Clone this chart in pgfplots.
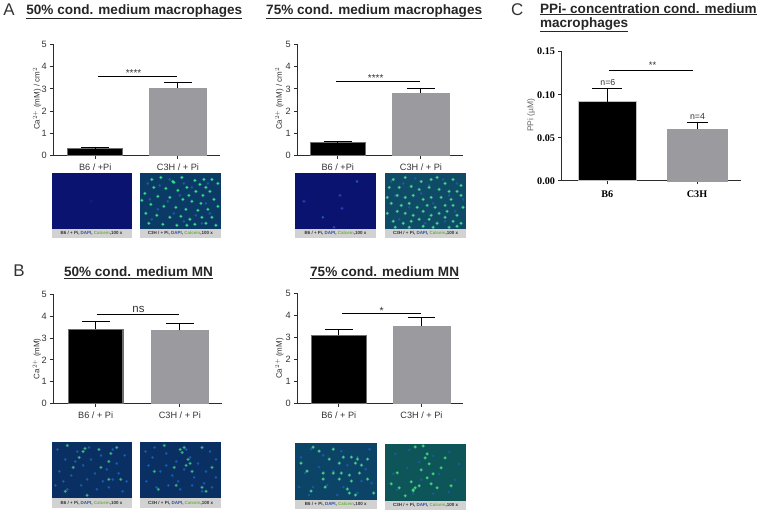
\documentclass[border=0pt]{standalone}
\usepackage{fontspec}
\setmainfont{Liberation Sans}
\newfontfamily\serifb{Liberation Serif}
\usepackage{pgfplots}
\pgfplotsset{compat=1.18}

\definecolor{axc}{HTML}{2B2B2B}
\definecolor{txt}{HTML}{333333}
\definecolor{greybar}{HTML}{9B9B9F}
\definecolor{edgeblk}{HTML}{6E6E6E}
\definecolor{capbox}{HTML}{D2D2D2}
\definecolor{calc}{HTML}{6FAF3F}
\definecolor{dapi}{HTML}{2F4F9F}
\definecolor{bgdark}{HTML}{0A1470}
\definecolor{bgA}{HTML}{0B3A66}
\definecolor{bgB}{HTML}{0F4A66}
\definecolor{bgC}{HTML}{0A2F62}
\definecolor{bgD}{HTML}{0C4468}
\definecolor{bgE}{HTML}{0D5558}
\definecolor{spA}{HTML}{35E08A}
\definecolor{spB}{HTML}{3FE08A}
\definecolor{spC}{HTML}{3FB58A}
\definecolor{spD}{HTML}{45D880}
\definecolor{spFaint}{HTML}{2C3CB8}
\definecolor{spBlue}{HTML}{1A58A8}

\tikzset{ttl/.style={font=\fontsize{13.6}{14}\selectfont\bfseries,text=black!85}}

\pgfplotsset{
  panel/.style={
    scale only axis, clip=false,
    axis lines=left,
    axis line style={-,line width=1pt,color=axc},
    tick style={line width=1pt,color=axc},
    tick align=outside, major tick length=3.5pt,
    xtick={0,1}, ytick={0,1,2,3,4,5},
    tick label style={font=\fontsize{9.2}{10}\selectfont,text=txt},
    /pgf/number format/assume math mode=true,
    xticklabel style={yshift=-1pt},
    ylabel style={font=\fontsize{8}{9}\selectfont,text=txt,anchor=center},
    ymin=0,
  },
  blk/.style={ybar,bar shift=0pt,fill=black,draw=edgeblk,line width=1.2pt,
    error bars/y dir=plus,error bars/y explicit,
    error bars/error bar style={black,line width=1pt},
    error bars/error mark options={black,line width=1pt,rotate=90,mark size=#1}},
  blk/.default=14pt,
  gry/.style={ybar,bar shift=0pt,fill=greybar,draw=greybar,line width=0.4pt,
    error bars/y dir=plus,error bars/y explicit,
    error bars/error bar style={black,line width=1pt},
    error bars/error mark options={black,line width=1pt,rotate=90,mark size=#1}},
  gry/.default=14pt,
  sig/.style={black,line width=0.9pt,forget plot},
  photo/.style={
    scale only axis, axis line style={draw=none}, ticks=none,
    xmin=0,xmax=81,ymin=0,ymax=#1,y dir=reverse,clip=true,
  },
  spot/.style 2 args={only marks,mark=*,mark size=#2,color=#1,
    mark options={solid,draw=none,fill=#1}},
}

% #1 x, #2 y (top), #3 w, #4 h, #5 background, #6 blue dots, #7 green dots, #8 colour of green dots, #9 caption name
\newcommand{\photo}[9]{%
  \begin{axis}[photo=#4,at={(#1pt,-#2pt-#4pt)},anchor=south west,width=#3pt,height=#4pt,
    axis background/.style={fill=#5}]
    \addplot[spot={spBlue}{1.1pt}] coordinates {#6};
    \addplot[spot={#8}{1.7pt},opacity=0.3] coordinates {#7};
    \addplot[spot={#8}{0.85pt}] coordinates {#7};
  \end{axis}
  \fill[capbox] (#1pt,-#2pt-#4pt) rectangle (#1pt+#3pt,-#2pt-#4pt-9.5pt);
  \node[font=\fontsize{4.5}{5}\selectfont\bfseries,text=black!80] at (#1pt+#3pt/2,-#2pt-#4pt-4.8pt)
    {#9 / + Pi, \textcolor{dapi}{DAPI}, \textcolor{calc}{Calcein},100 x};
}

\begin{document}
\begin{tikzpicture}
\path (0,0) rectangle (760pt,-514pt);

% panel A, 50%
\begin{axis}[panel,at={(53pt,-155.3pt)},anchor=south west,width=167pt,height=111.6pt,
  xmin=-0.5,xmax=1.51,ymax=5,xticklabels={B6 / +Pi,C3H / + Pi},
  ylabel={Ca$^{2+}$ (mM) / cm$^{2}$},ylabel style={at={(axis description cs:-0.10,0.51)}}]
  \addplot[blk,bar width=55pt] coordinates {(0,0.30) +- (0,0.05)};
  \addplot[gry,bar width=57pt] coordinates {(1,3.05) +- (0,0.24)};
  \addplot[sig] coordinates {(0.03,3.55) (0.994,3.55)};
\end{axis}

% panel A, 75%
\begin{axis}[panel,at={(297.7pt,-155.3pt)},anchor=south west,width=166.3pt,height=111.6pt,
  xmin=-0.483,xmax=1.51,ymax=5,xticklabels={B6 / +Pi,C3H / + Pi},
  ylabel={Ca$^{2+}$ (mM) / cm$^{2}$},ylabel style={at={(axis description cs:-0.11,0.51)}}]
  \addplot[blk,bar width=55pt] coordinates {(0,0.57) +- (0,0.08)};
  \addplot[gry,bar width=57pt] coordinates {(1,2.82) +- (0,0.20)};
  \addplot[sig] coordinates {(-0.024,3.33) (0.994,3.33)};
\end{axis}

% panel C
\begin{axis}[panel,at={(563pt,-180.7pt)},anchor=south west,width=180pt,height=129.7pt,
  xmin=-0.506,xmax=1.494,ymax=0.15,ytick={0,0.05,0.10,0.15},
  xticklabels={B6,C3H},
  tick label style={font=\fontsize{10.2}{11}\selectfont\serifb\bfseries,text=black},
  yticklabel style={/pgf/number format/.cd,fixed,fixed zerofill,precision=2},
  ylabel={PPi (µM)},
  ylabel style={at={(axis description cs:-0.172,0.507)},text=black!60,font=\fontsize{8.5}{9}\selectfont},
  xticklabel style={yshift=-2pt}]
  \addplot[blk=15pt,bar width=58pt,draw=black!25] coordinates {(0,0.092) +- (0,0.015)};
  \addplot[gry=10.5pt,bar width=60pt] coordinates {(1,0.060) +- (0,0.008)};
  \addplot[sig,line width=0.7pt] coordinates {(0.017,0.1288) (0.96,0.1288)};
\end{axis}

% panel B, 50%
\begin{axis}[panel,at={(53pt,-404pt)},anchor=south west,width=169pt,height=109.3pt,
  xmin=-0.497,xmax=1.503,ymax=5,xticklabels={B6 / + Pi,C3H / + Pi},
  ylabel={Ca$^{2+}$ (mM)},ylabel style={at={(axis description cs:-0.10,0.41)}}]
  \addplot[blk,bar width=55pt] coordinates {(0,3.40) +- (0,0.36)};
  \addplot[gry,bar width=57pt] coordinates {(1,3.35) +- (0,0.30)};
  \addplot[sig] coordinates {(0.012,4.07) (0.994,4.07)};
\end{axis}

% panel B, 75%
\begin{axis}[panel,at={(297.7pt,-404pt)},anchor=south west,width=166.3pt,height=110pt,
  xmin=-0.498,xmax=1.506,ymax=5,xticklabels={B6 / + Pi,C3H / + Pi},
  ylabel={Ca$^{2+}$ (mM)},ylabel style={at={(axis description cs:-0.11,0.41)}}]
  \addplot[blk,bar width=55pt] coordinates {(0,3.10) +- (0,0.28)};
  \addplot[gry,bar width=57pt] coordinates {(1,3.52) +- (0,0.38)};
  \addplot[sig] coordinates {(0.036,4.10) (1.0,4.10)};
\end{axis}

% micrographs
\photo{50.7}{173.3}{80.3}{55.4}{bgdark}{(40,28)}{(40,28)}{bgdark}{B6}
\photo{139.3}{173.3}{81.4}{55.4}{bgA}
 {(8,10)(20,12)(30,6)(44,10)(52,14)(68,10)(10,26)(28,28)(40,22)(66,30)(18,36)(34,40)(56,42)(70,40)(12,46)(44,48)(62,50)}
 {(12,6)(21,4)(42,4)(34,9)(55,7)(60,11)(66,14)(72,6)(78,10)(14,14)(26,15)(38,17)(47,14)(56,18)(63,22)(70,18)(5,20)(18,23)(30,24)(43,26)(52,28)(61,30)(74,26)(2,27)(11,31)(24,33)(36,34)(46,36)(58,37)(68,36)(78,33)(6,40)(17,42)(30,44)(41,43)(50,46)(62,44)(72,44)(9,50)(23,51)(37,52)(47,52)(55,51)(66,50)(76,52)(33,8)(49,22)(64,6)}
 {spA}{C3H}
\photo{295}{173.3}{81.3}{55.4}{bgdark}{(62,8)(28,44)}
 {(9,28)(47,35)(39,54)(45,22)}{spFaint}{B6}
\photo{385.7}{173.3}{81}{55.4}{bgB}
 {(6,8)(18,10)(30,5)(44,12)(58,6)(72,10)(10,22)(36,20)(64,22)(78,26)(24,34)(48,30)(70,38)(14,46)(40,50)(60,48)}
 {(8,6)(20,4)(36,8)(46,6)(52,4)(60,10)(68,6)(76,12)(4,14)(14,14)(26,13)(34,16)(44,14)(54,16)(64,18)(72,18)(2,24)(12,22)(20,24)(28,22)(38,26)(46,24)(56,24)(66,26)(76,22)(6,30)(16,32)(24,30)(32,34)(42,32)(50,34)(60,32)(68,32)(78,34)(2,40)(12,38)(20,40)(28,42)(38,38)(46,42)(54,40)(62,38)(72,42)(8,48)(18,50)(26,48)(34,46)(44,46)(52,50)(60,44)(68,48)(76,50)(10,54)(24,54)(38,53)(48,54)(64,54)(72,53)}
 {spB}{C3H}
\photo{50.7}{442.3}{80.3}{57}{bgC}
 {(6,8)(14,18)(26,10)(38,6)(50,14)(62,8)(74,14)(8,30)(20,34)(32,24)(44,32)(56,28)(68,32)(4,44)(16,48)(30,44)(46,48)(58,46)(72,50)(24,20)(40,18)(66,22)(12,40)(36,38)(52,40)(62,38)(76,40)}
 {(16,4)(32,10)(34,7)(48,8)(60,12)(66,6)(22,26)(58,20)(50,26)(70,38)(14,50)(36,54)(58,38)(28,16)}
 {spC}{B6}
\photo{140}{442.3}{80.7}{57}{bgC}
 {(5,10)(14,6)(26,12)(36,20)(46,8)(58,22)(70,10)(76,18)(8,24)(20,30)(32,34)(44,28)(54,36)(66,30)(76,36)(6,40)(16,46)(28,44)(40,48)(52,44)(62,50)(72,46)(12,16)(26,24)(50,16)(64,42)(38,40)}
 {(40,8)(44,6)(42,11)(48,18)(50,22)(46,24)(24,4)(62,6)(14,30)(34,26)(36,44)(18,48)(62,46)(66,50)(52,30)(72,26)}
 {spC}{C3H}
\photo{295}{444}{82}{56.7}{bgD}
 {(6,14)(16,6)(28,12)(46,8)(62,14)(74,6)(10,30)(24,24)(38,28)(52,22)(70,26)(4,44)(18,44)(32,42)(48,44)(62,50)(76,40)(14,52)(42,52)(66,38)}
 {(6,20)(18,4)(24,8)(34,16)(38,6)(48,14)(44,20)(56,14)(62,16)(60,20)(66,22)(72,16)(12,28)(28,30)(38,30)(46,30)(54,32)(64,30)(28,36)(30,44)(44,36)(56,38)(52,46)(54,50)(60,52)(72,36)(16,48)(78,50)}
 {spD}{B6}
\photo{385.7}{444.7}{81}{57}{bgE}
 {(10,10)(24,6)(34,18)(48,12)(64,8)(74,20)(8,30)(22,24)(36,36)(54,30)(70,36)(12,46)(28,50)(48,50)(64,48)}
 {(30,3)(38,2)(42,10)(40,14)(44,20)(56,24)(12,29)(6,40)(14,44)(26,38)(28,46)(28,47)(30,44)(34,42)(42,34)(46,40)(52,44)(60,14)(66,42)(36,26)(20,52)(48,30)}
 {spD}{C3H}

% significance marks
\node[font=\fontsize{10}{10}\selectfont,text=txt] at (133pt,-73pt) {****};
\node[font=\fontsize{10}{10}\selectfont,text=txt] at (376pt,-78pt) {****};
\node[font=\fontsize{9.5}{10}\selectfont,text=txt] at (654pt,-65pt) {**};
\node[font=\fontsize{11.5}{12}\selectfont,text=txt] at (138pt,-309.5pt) {ns};
\node[font=\fontsize{10.5}{11}\selectfont,text=txt] at (382pt,-311pt) {*};
\node[font=\fontsize{8.8}{9}\selectfont,text=txt] at (609pt,-82pt) {n=6};
\node[font=\fontsize{8.8}{9}\selectfont,text=txt] at (699pt,-116pt) {n=4};

% panel letters and titles
\node[font=\fontsize{17}{17}\selectfont,text=txt] at (8pt,-9pt) {A};
\node[font=\fontsize{17}{17}\selectfont,text=txt] at (18pt,-271pt) {B};
\node[font=\fontsize{17}{17}\selectfont,text=txt] at (518pt,-9pt) {C};
\node[ttl] at (133.8pt,-11pt) {\underline{50\% cond. medium macrophages}};
\node[ttl] at (374.5pt,-11pt) {\underline{75\% cond. medium macrophages}};
\node[ttl,anchor=west] at (537.5pt,-8.5pt) {\underline{PPi- concentration cond. medium}};
\node[ttl,anchor=west] at (537.5pt,-24pt) {\underline{macrophages}};
\node[ttl] at (138pt,-272.5pt) {\underline{50\% cond. medium MN}};
\node[ttl] at (385pt,-272.5pt) {\underline{75\% cond. medium MN}};
\end{tikzpicture}
\end{document}
